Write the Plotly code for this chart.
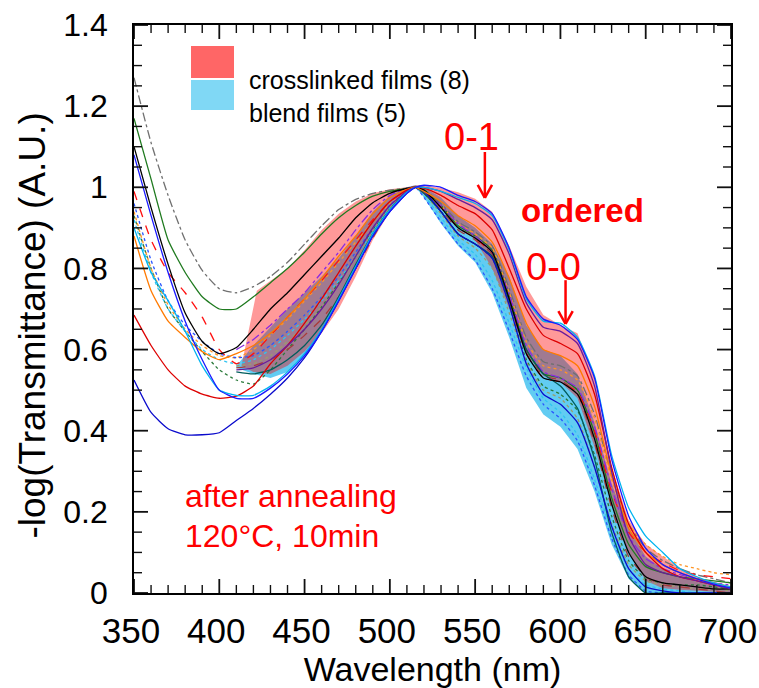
import plotly.graph_objects as go

# ---------------- data ----------------
WL = [350, 360, 370, 380, 390, 400, 410, 420, 430, 440, 450, 460, 470, 480, 490, 500, 510, 515,
      520, 530, 540, 550, 560, 570, 580, 590, 600, 610, 620, 630, 640, 650, 660, 670, 680, 690, 700]
WLB = [410, 420, 430, 440, 450, 460, 470, 480, 490, 500, 510, 515,
       520, 530, 540, 550, 560, 570, 580, 590, 600, 610, 620, 630, 640, 650, 660, 670, 680, 690, 700]

gray_dd = [1.27, 1.11, 0.98, 0.87, 0.795, 0.75, 0.74, 0.755, 0.78, 0.815, 0.86, 0.905, 0.945, 0.97, 0.985, 0.993, 0.998, 1.0,
           0.995, 0.96, 0.915, 0.89, 0.855, 0.75, 0.63, 0.57, 0.56, 0.535, 0.44, 0.29, 0.17, 0.11, 0.08, 0.06, 0.045, 0.035, 0.025]
dkgreen = [1.17, 1.02, 0.87, 0.79, 0.73, 0.70, 0.70, 0.73, 0.765, 0.80, 0.84, 0.885, 0.925, 0.955, 0.978, 0.99, 0.997, 1.0,
           0.993, 0.955, 0.905, 0.88, 0.845, 0.735, 0.60, 0.54, 0.53, 0.50, 0.395, 0.235, 0.12, 0.065, 0.05, 0.04, 0.035, 0.03, 0.025]
black = [1.10, 0.95, 0.81, 0.69, 0.62, 0.59, 0.605, 0.65, 0.70, 0.74, 0.785, 0.83, 0.875, 0.925, 0.962, 0.985, 0.997, 1.0,
         0.993, 0.95, 0.90, 0.875, 0.84, 0.725, 0.59, 0.53, 0.52, 0.49, 0.38, 0.22, 0.10, 0.04, 0.025, 0.02, 0.015, 0.01, 0.01]
blue = [1.08, 0.93, 0.79, 0.67, 0.575, 0.50, 0.48, 0.48, 0.505, 0.54, 0.585, 0.645, 0.72, 0.80, 0.88, 0.94, 0.985, 1.0,
        1.005, 1.0, 0.98, 0.965, 0.935, 0.85, 0.73, 0.675, 0.66, 0.625, 0.53, 0.33, 0.19, 0.11, 0.07, 0.05, 0.035, 0.022, 0.012]
cyan = [0.90, 0.79, 0.72, 0.645, 0.56, 0.50, 0.487, 0.487, 0.51, 0.545, 0.59, 0.65, 0.725, 0.805, 0.885, 0.945, 0.988, 1.0,
        1.0, 0.99, 0.975, 0.96, 0.93, 0.845, 0.725, 0.67, 0.665, 0.63, 0.535, 0.34, 0.21, 0.14, 0.10, 0.06, 0.04, 0.025, 0.015]
orange = [0.88, 0.745, 0.67, 0.63, 0.595, 0.575, 0.59, 0.61, 0.64, 0.68, 0.725, 0.775, 0.83, 0.88, 0.935, 0.975, 0.995, 1.0,
          0.99, 0.965, 0.93, 0.905, 0.865, 0.775, 0.665, 0.60, 0.585, 0.56, 0.46, 0.29, 0.16, 0.10, 0.07, 0.05, 0.035, 0.025, 0.015]
red = [0.685, 0.61, 0.55, 0.51, 0.49, 0.48, 0.485, 0.51, 0.565, 0.61, 0.665, 0.725, 0.79, 0.855, 0.915, 0.965, 0.993, 1.0,
       0.998, 0.98, 0.955, 0.935, 0.895, 0.80, 0.70, 0.635, 0.615, 0.59, 0.49, 0.31, 0.17, 0.10, 0.06, 0.04, 0.03, 0.02, 0.012]
navy = [0.525, 0.445, 0.405, 0.39, 0.39, 0.395, 0.425, 0.455, 0.49, 0.53, 0.58, 0.645, 0.72, 0.80, 0.88, 0.94, 0.985, 1.0,
        0.99, 0.94, 0.885, 0.86, 0.825, 0.71, 0.565, 0.49, 0.465, 0.42, 0.31, 0.165, 0.06, 0.015, 0.005, 0.0, 0.0, 0.0, 0.0]
red_dash = [0.99, 0.87, 0.79, 0.74, 0.68, 0.60, 0.565, 0.59, 0.635, 0.68, 0.725, 0.77, 0.82, 0.87, 0.92, 0.965, 0.993, 1.0,
            0.99, 0.95, 0.90, 0.875, 0.835, 0.72, 0.59, 0.53, 0.52, 0.495, 0.40, 0.25, 0.15, 0.10, 0.075, 0.055, 0.045, 0.04, 0.035]
blue_dot = [0.96, 0.82, 0.72, 0.66, 0.62, 0.59, 0.58, 0.585, 0.61, 0.645, 0.685, 0.73, 0.78, 0.84, 0.90, 0.955, 0.99, 1.0,
            0.975, 0.915, 0.86, 0.82, 0.75, 0.645, 0.535, 0.465, 0.43, 0.375, 0.265, 0.135, 0.045, 0.005, 0.0, 0.0, 0.0, 0.0, 0.0]
cyan_dot = [0.92, 0.79, 0.70, 0.645, 0.60, 0.575, 0.565, 0.575, 0.60, 0.635, 0.675, 0.72, 0.77, 0.83, 0.89, 0.95, 0.99, 1.0,
            0.98, 0.925, 0.87, 0.835, 0.77, 0.665, 0.555, 0.48, 0.445, 0.39, 0.28, 0.15, 0.06, 0.02, 0.01, 0.005, 0.0, 0.0, 0.0]
orange_dot = [0.94, 0.80, 0.71, 0.65, 0.61, 0.585, 0.58, 0.60, 0.635, 0.675, 0.72, 0.765, 0.815, 0.865, 0.915, 0.96, 0.99, 1.0,
              0.99, 0.955, 0.91, 0.885, 0.85, 0.74, 0.62, 0.56, 0.55, 0.525, 0.43, 0.28, 0.17, 0.12, 0.09, 0.07, 0.06, 0.05, 0.045]
green_dot = [0.93, 0.80, 0.70, 0.645, 0.595, 0.55, 0.525, 0.515, 0.55, 0.60, 0.65, 0.705, 0.765, 0.83, 0.895, 0.95, 0.99, 1.0,
             0.985, 0.94, 0.885, 0.86, 0.825, 0.71, 0.575, 0.51, 0.49, 0.45, 0.34, 0.19, 0.08, 0.035, 0.025, 0.02, 0.02, 0.015, 0.01]

purple = [0.55, 0.555, 0.575, 0.61, 0.65, 0.70, 0.76, 0.83, 0.90, 0.955, 0.99, 1.0,
          1.0, 0.99, 0.97, 0.95, 0.92, 0.835, 0.715, 0.655, 0.645, 0.615, 0.51, 0.30, 0.14, 0.07, 0.05, 0.04, 0.03, 0.02, 0.01]
purple_dd = [0.60, 0.625, 0.66, 0.70, 0.74, 0.79, 0.84, 0.895, 0.945, 0.98, 0.997, 1.0,
             0.99, 0.955, 0.91, 0.88, 0.84, 0.735, 0.61, 0.545, 0.53, 0.505, 0.41, 0.26, 0.14, 0.085, 0.06, 0.045, 0.035, 0.025, 0.02]
brown_dash = [0.555, 0.56, 0.575, 0.60, 0.635, 0.675, 0.73, 0.80, 0.875, 0.945, 0.99, 1.0,
              0.985, 0.945, 0.895, 0.87, 0.835, 0.73, 0.60, 0.535, 0.525, 0.49, 0.37, 0.21, 0.09, 0.04, 0.02, 0.015, 0.01, 0.005, 0.0]
teal = [0.545, 0.54, 0.55, 0.575, 0.61, 0.66, 0.73, 0.81, 0.885, 0.945, 0.988, 1.0,
        0.985, 0.94, 0.885, 0.86, 0.83, 0.72, 0.60, 0.54, 0.51, 0.455, 0.33, 0.15, 0.04, 0.0, 0.0, 0.0, 0.0, 0.0, 0.0]
olive_dot = [0.56, 0.565, 0.585, 0.62, 0.66, 0.705, 0.76, 0.825, 0.89, 0.95, 0.99, 1.0,
             0.985, 0.935, 0.88, 0.85, 0.80, 0.69, 0.57, 0.50, 0.48, 0.43, 0.31, 0.17, 0.07, 0.03, 0.02, 0.015, 0.01, 0.01, 0.005]

# envelopes (ranges) of the two film groups
RB_UP_X = [422, 430, 440, 450, 460, 470, 480, 490, 500, 510, 515,
           520, 530, 540, 550, 560, 570, 580, 590, 600, 610, 620, 630, 640, 650, 660, 670, 680, 690, 700]
RB_UP = [0.745, 0.77, 0.80, 0.845, 0.895, 0.935, 0.965, 0.985, 0.995, 1.0, 1.005,
         1.005, 0.998, 0.988, 0.972, 0.94, 0.855, 0.755, 0.685, 0.66, 0.64, 0.53, 0.31, 0.18, 0.12, 0.09, 0.062, 0.04, 0.022, 0.012]
RB_LO_X = [413, 420, 430, 440, 450, 460, 470, 480, 490, 500, 510, 515,
           520, 530, 540, 550, 560, 570, 580, 590, 600, 610, 620, 630, 640, 650, 660, 670, 680, 690, 700]
RB_LO = [0.56, 0.545, 0.54, 0.56, 0.595, 0.64, 0.70, 0.78, 0.87, 0.94, 0.99, 1.0,
         0.985, 0.95, 0.91, 0.87, 0.80, 0.70, 0.59, 0.535, 0.52, 0.48, 0.36, 0.22, 0.10, 0.03, 0.012, 0.008, 0.005, 0.003, 0.0]
BB_UP_X = [410, 415, 420, 430, 440, 450, 460, 470, 480, 490, 500, 510, 515,
           520, 530, 540, 550, 560, 570, 580, 590, 600, 610, 620, 630, 640, 650, 660, 670, 680, 690, 700]
BB_UP = [0.56, 0.585, 0.61, 0.655, 0.70, 0.74, 0.78, 0.825, 0.88, 0.94, 0.98, 1.0, 1.005,
         1.0, 0.975, 0.93, 0.90, 0.86, 0.78, 0.66, 0.60, 0.585, 0.54, 0.42, 0.27, 0.16, 0.09, 0.06, 0.04, 0.028, 0.018, 0.01]
BB_LO_X = WLB
BB_LO = [0.555, 0.54, 0.53, 0.545, 0.585, 0.645, 0.72, 0.80, 0.88, 0.945, 0.99, 1.0,
         0.975, 0.91, 0.855, 0.815, 0.74, 0.63, 0.505, 0.44, 0.41, 0.355, 0.25, 0.12, 0.035, 0.0, 0.0, 0.0, 0.0, 0.0, 0.0]

X_RANGE = [350, 700]
Y_RANGE = [0, 1.4]
X_TICKS = [350, 400, 450, 500, 550, 600, 650, 700]
X_TICK_TEXT = ["350", "400", "450", "500", "550", "600", "650", "700"]
X_MINOR_STEP = 10
Y_TICKS = [0, 0.2, 0.4, 0.6, 0.8, 1.0, 1.2, 1.4]
Y_TICK_TEXT = ["0", "0.2", "0.4", "0.6", "0.8", "1", "1.2", "1.4"]
Y_MINOR_STEP = 0.05

FONT = "Liberation Sans, Arial, Helvetica, sans-serif"

W, H = 759, 688
MARGIN = dict(l=134, r=28, t=25, b=95)
PLOT_W = W - MARGIN["l"] - MARGIN["r"]
PLOT_H = H - MARGIN["t"] - MARGIN["b"]

fig = go.Figure()

# bands
fig.add_trace(go.Scatter(x=BB_UP_X + BB_LO_X[::-1], y=BB_UP + BB_LO[::-1], fill="toself",
                         fillcolor="rgba(70,195,240,0.85)", line=dict(width=0), mode="lines",
                         hoverinfo="skip", showlegend=False))
fig.add_trace(go.Scatter(x=RB_UP_X + RB_LO_X[::-1], y=RB_UP + RB_LO[::-1], fill="toself",
                         fillcolor="rgba(255,0,0,0.40)", line=dict(width=0), mode="lines",
                         hoverinfo="skip", showlegend=False))

lines = [
    (WL, gray_dd, "#707070", "dashdot"),
    (WL, dkgreen, "#1f7a1f", "solid"),
    (WL, green_dot, "#2a7a3a", "dot"),
    (WL, orange_dot, "#ff9526", "dot"),
    (WL, cyan_dot, "#2ec4f2", "dot"),
    (WL, blue_dot, "#2a55ff", "dot"),
    (WL, red_dash, "#ff1010", "dash"),
    (WLB, olive_dot, "#9c9c6a", "dot"),
    (WLB, brown_dash, "#a83a3a", "dash"),
    (WLB, purple_dd, "#8a2be2", "dashdot"),
    (WLB, teal, "#005c5c", "solid"),
    (WL, navy, "#0a0acc", "solid"),
    (WL, black, "#000000", "solid"),
    (WL, orange, "#ff7a00", "solid"),
    (WL, red, "#dd0000", "solid"),
    (WLB, purple, "#6a1b9a", "solid"),
    (WL, cyan, "#00b4f0", "solid"),
    (WL, blue, "#1a1aff", "solid"),
]
for xs, ys, col, dash in lines:
    fig.add_trace(go.Scatter(x=xs, y=ys, mode="lines", showlegend=False, hoverinfo="skip",
                             line=dict(color=col, width=1.3, dash=dash, shape="spline", smoothing=0.5)))

# annotations
red_txt = "#ff0000"
ann = [
    dict(x=548, y=1.124, text="0-1", font=dict(size=38, color=red_txt, family=FONT)),
    dict(x=612.8, y=0.944, text="<b>ordered</b>", font=dict(size=33, color=red_txt, family=FONT)),
    dict(x=596.2, y=0.804, text="0-0", font=dict(size=38, color=red_txt, family=FONT)),
    dict(x=378.5, y=0.239, text="after annealing", xanchor="left", font=dict(size=32, color=red_txt, family=FONT)),
    dict(x=378.5, y=0.140, text="120°C, 10min", xanchor="left", font=dict(size=32, color=red_txt, family=FONT)),
    dict(x=0.189, y=0.931, xref="paper", yref="paper", text="crosslinked films (8)", xanchor="left",
         font=dict(size=25, color="black", family=FONT)),
    dict(x=0.189, y=0.873, xref="paper", yref="paper", text="blend films (5)", xanchor="left",
         font=dict(size=25, color="black", family=FONT)),
    # y-axis title
    dict(x=-0.170, y=0.47, xref="paper", yref="paper", xanchor="center", yanchor="middle",
         text="-log(Transmittance) (A.U.)", textangle=-90,
         font=dict(size=37, color="black", family=FONT)),
]
for a in ann:
    a.setdefault("showarrow", False)
    fig.add_annotation(**a)

shapes = []
# arrows (shaft + two barbs)
for xa, y0, y1 in [(555.7, 1.087, 0.974), (603.0, 0.771, 0.663)]:
    shapes.append(dict(type="line", x0=xa, x1=xa, y0=y0, y1=y1, line=dict(color=red_txt, width=2.5)))
    shapes.append(dict(type="line", x0=xa - 4.2, x1=xa, y0=y1 + 0.032, y1=y1, line=dict(color=red_txt, width=2.5)))
    shapes.append(dict(type="line", x0=xa + 4.2, x1=xa, y0=y1 + 0.032, y1=y1, line=dict(color=red_txt, width=2.5)))
# legend boxes
shapes.append(dict(type="rect", xref="paper", yref="paper", x0=0.0955, x1=0.1675, y0=0.9067, y1=0.963,
                   fillcolor="#ff6666", line=dict(width=0)))
shapes.append(dict(type="rect", xref="paper", yref="paper", x0=0.0955, x1=0.1675, y0=0.8504, y1=0.9032,
                   fillcolor="#80d8f5", line=dict(width=0)))

# ---- inside tick marks on all four sides, built from the tick arrays (data-unit lengths) ----
px_x = (X_RANGE[1] - X_RANGE[0]) / PLOT_W   # data units per pixel
px_y = (Y_RANGE[1] - Y_RANGE[0]) / PLOT_H
TICK_COL = "#111111"

n_xm = int(round((X_RANGE[1] - X_RANGE[0]) / X_MINOR_STEP))
for i in range(n_xm + 1):
    v = X_RANGE[0] + i * X_MINOR_STEP
    major = v in X_TICKS
    L = (14 if major else 8) * px_y
    w = 1.8 if major else 1.4
    shapes.append(dict(type="line", xref="x", yref="y", layer="above", x0=v, x1=v,
                       y0=Y_RANGE[0], y1=Y_RANGE[0] + L, line=dict(color=TICK_COL, width=w)))
    shapes.append(dict(type="line", xref="x", yref="y", layer="above", x0=v, x1=v,
                       y0=Y_RANGE[1], y1=Y_RANGE[1] - L, line=dict(color=TICK_COL, width=w)))
n_ym = int(round((Y_RANGE[1] - Y_RANGE[0]) / Y_MINOR_STEP))
for i in range(n_ym + 1):
    v = round(Y_RANGE[0] + i * Y_MINOR_STEP, 4)
    major = any(abs(v - t) < 1e-6 for t in Y_TICKS)
    L = (14 if major else 8) * px_x
    w = 1.8 if major else 1.4
    shapes.append(dict(type="line", xref="x", yref="y", layer="above", y0=v, y1=v,
                       x0=X_RANGE[0], x1=X_RANGE[0] + L, line=dict(color=TICK_COL, width=w)))
    shapes.append(dict(type="line", xref="x", yref="y", layer="above", y0=v, y1=v,
                       x0=X_RANGE[1], x1=X_RANGE[1] - L, line=dict(color=TICK_COL, width=w)))

fig.update_layout(shapes=shapes)

fig.update_layout(
    width=W, height=H, margin=MARGIN,
    plot_bgcolor="white", paper_bgcolor="white", showlegend=False,
    font=dict(family=FONT, color="black"),
    xaxis=dict(range=X_RANGE, tickmode="array", tickvals=X_TICKS, ticktext=X_TICK_TEXT,
               ticks="", showline=True, linecolor="#000000", linewidth=1.6, mirror=True,
               showgrid=False, zeroline=False, automargin=False,
               ticklabeloverflow="allow", ticklabelshift=-3, ticklabelstandoff=6,
               tickfont=dict(size=35, color="black", family=FONT),
               title=dict(text="Wavelength (nm)", font=dict(size=34, color="black", family=FONT), standoff=2)),
    yaxis=dict(range=Y_RANGE, tickmode="array", tickvals=Y_TICKS, ticktext=Y_TICK_TEXT,
               ticks="", showline=True, linecolor="#000000", linewidth=1.6, mirror=True,
               showgrid=False, zeroline=False, automargin=False,
               ticklabeloverflow="allow", ticklabelstandoff=18,
               tickfont=dict(size=32, color="black", family=FONT)),
)

fig.write_html("out.html")
